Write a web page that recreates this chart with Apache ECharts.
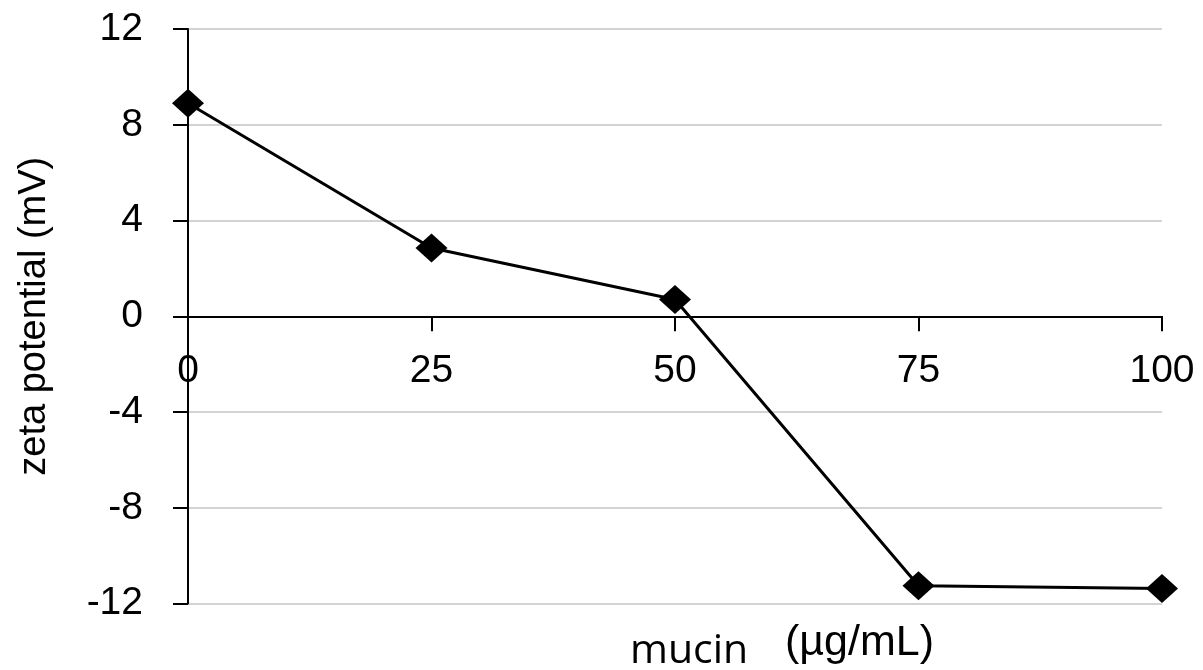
<!DOCTYPE html>
<html>
<head>
<meta charset="utf-8">
<script src="https://cdn.jsdelivr.net/npm/echarts@6/dist/echarts.min.js"></script>
<style>
html,body{margin:0;padding:0;background:#fff;}
#chart{width:1203px;height:670px;}
</style>
</head>
<body>
<div id="chart"></div>
<script>
// Data
const mucinConc = [0, 25, 50, 75, 100];
const zetaPotential = [8.9, 2.85, 0.7, -11.26, -11.37];
const xTicks = [0, 25, 50, 75, 100];
const yTicks = [-12, -8, -4, 0, 4, 8, 12];
const yTitle = 'zeta potential (mV)';
const xTitleMain = 'mucin';
const xTitleUnit = '(µg/mL)';

const W = 1203, H = 670;
const gridTop = 29, gridBottom = 66.5, gridLeft = 188, gridRight = 41;
const yMin = yTicks[0], yMax = yTicks[yTicks.length - 1];
const gridH = H - gridTop - gridBottom;
// move the x axis up to the y = 0 line
const xAxisOffset = -gridH * (0 - yMin) / (yMax - yMin);

const chart = echarts.init(document.getElementById('chart'), null, {renderer: 'canvas'});
const seriesData = mucinConc.map((x, i) => [x, zetaPotential[i]]);

chart.setOption({
  animation: false,
  backgroundColor: '#ffffff',
  grid: {
    left: gridLeft, right: gridRight, top: gridTop, bottom: gridBottom,
    containLabel: false,
    outerBoundsMode: 'none'
  },
  xAxis: {
    type: 'value',
    position: 'bottom',
    offset: xAxisOffset,
    min: xTicks[0],
    max: xTicks[xTicks.length - 1],
    interval: xTicks[1] - xTicks[0],
    axisLine: {show: true, onZero: false, lineStyle: {color: '#000', width: 2}},
    axisTick: {show: true, length: 15, lineStyle: {color: '#000', width: 2}},
    splitLine: {show: false},
    axisLabel: {color: '#000', fontSize: 39, fontFamily: 'Liberation Sans', margin: 35}
  },
  yAxis: {
    type: 'value',
    min: yMin,
    max: yMax,
    interval: yTicks[1] - yTicks[0],
    name: yTitle,
    nameLocation: 'middle',
    nameRotate: 90,
    nameGap: 134,
    nameTextStyle: {color: '#000', fontSize: 38, fontFamily: 'Liberation Sans'},
    axisLine: {show: true, onZero: false, lineStyle: {color: '#000', width: 2}},
    axisTick: {show: true, length: 15, lineStyle: {color: '#000', width: 2}},
    splitLine: {show: true, lineStyle: {color: '#c4c4c4', width: 1.5}},
    axisLabel: {color: '#000', fontSize: 39, fontFamily: 'Liberation Sans', margin: 45}
  },
  graphic: [{
    type: 'text',
    x: 630,
    y: 651,
    style: {
      text: xTitleMain,
      fontSize: 41,
      fontFamily: 'Open Sans',
      fill: '#000',
      align: 'left',
      verticalAlign: 'middle'
    }
  }, {
    type: 'text',
    x: 785,
    y: 643,
    style: {
      text: xTitleUnit,
      fontSize: 43,
      fontFamily: 'Liberation Sans',
      fill: '#000',
      align: 'left',
      verticalAlign: 'middle'
    }
  }],
  series: [{
    type: 'line',
    data: seriesData,
    symbol: 'diamond',
    symbolSize: [32, 29],
    itemStyle: {color: '#000'},
    lineStyle: {color: '#000', width: 3},
    z: 5
  }]
});
</script>
</body>
</html>
